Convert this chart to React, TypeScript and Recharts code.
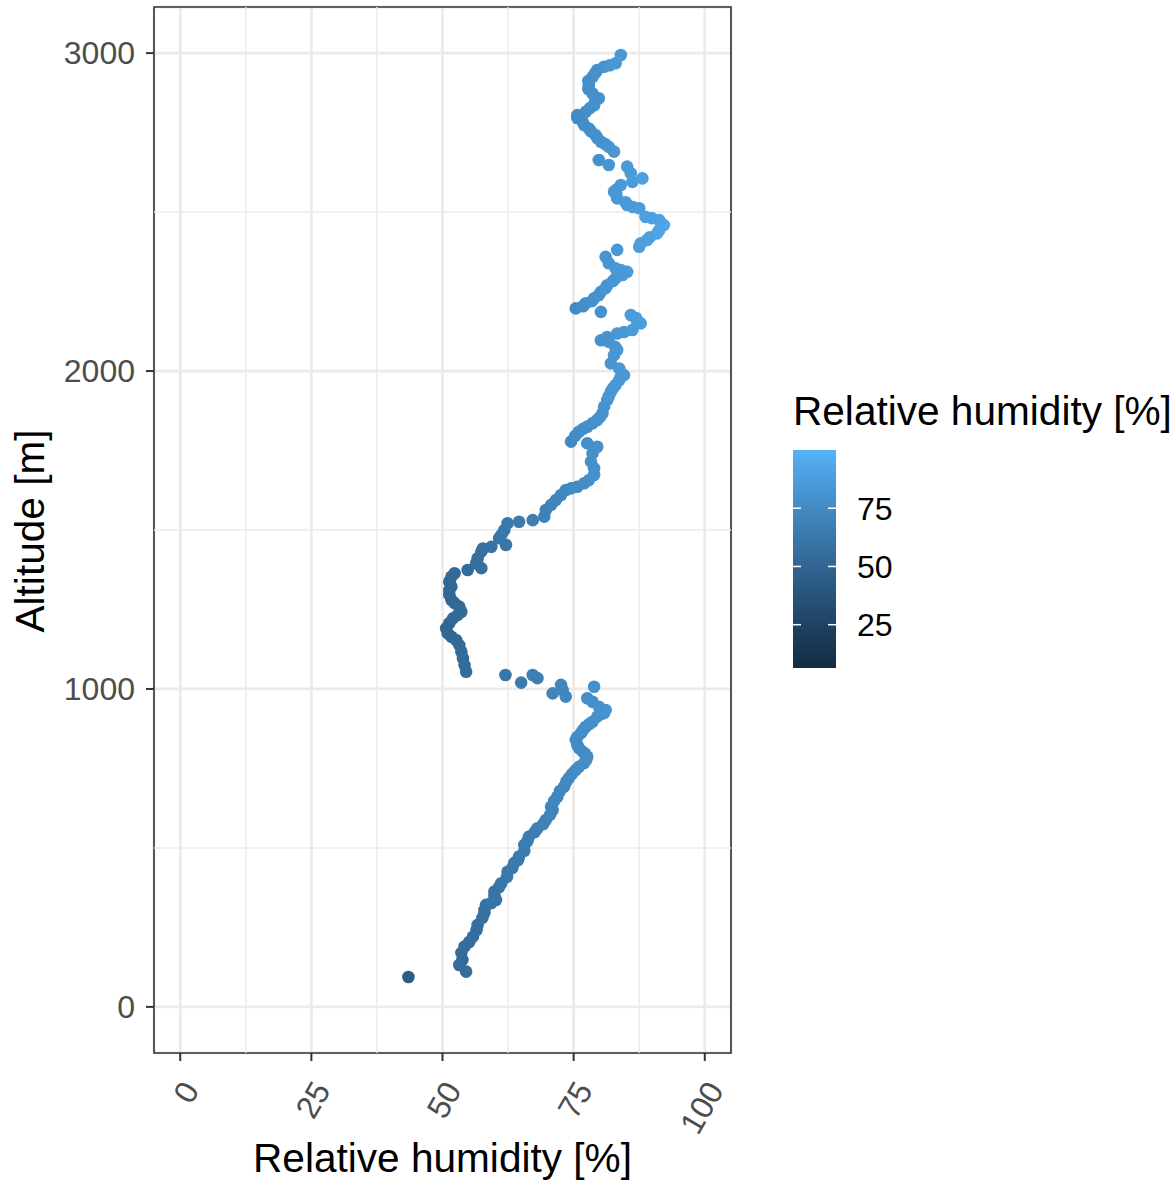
import React from 'react';
import { ScatterChart, Scatter, XAxis, YAxis, CartesianGrid, ReferenceLine, ReferenceArea } from 'recharts';

// humidity profile (bottom -> top)
const RH = [
  43.5, 54.5, 53.2, 53.8, 53.6, 54.2, 55.1, 55.8, 56.5, 56.7, 57.6, 58.0, 58.0, 58.3, 59.3, 60.2, 59.9, 59.9,
  60.8, 61.2, 62.3, 62.4, 63.3, 63.7, 64.4, 64.6, 65.6, 65.6, 66.2, 66.5, 67.6, 68.1, 69.2, 69.7, 70.5, 71.0,
  70.7, 71.3, 71.9, 72.4, 73.2, 73.6, 74.1, 74.7, 75.4, 76.0, 77.0, 77.4, 77.6, 77.2, 76.7, 76.0, 75.7, 75.4,
  75.7, 76.4, 76.8, 77.3, 78.0, 78.6, 79.5, 80.2, 80.8, 81.1, 79.8, 78.6, 77.6, 73.5, 71.0, 72.9, 78.9, 72.6,
  65.0, 68.1, 67.2, 62.0,
  54.5, 54.2, 53.9, 53.6, 53.2, 52.6, 51.7, 51.0, 50.7, 51.3, 52.0, 52.9, 53.6, 53.2, 52.3, 51.7, 51.3, 51.3,
  51.7, 51.3, 51.7, 52.3, 54.8, 57.4, 56.4, 56.7, 57.4, 57.7, 59.3, 60.8, 62.1, 61.2, 61.8, 62.4, 64.6, 67.2,
  69.4, 69.7, 70.7, 71.6, 72.6, 73.5, 74.5, 75.7, 77.0, 77.9, 78.9, 78.9, 78.3, 78.6, 79.5, 77.6, 74.5, 76.0,
  77.6, 79.5, 80.5, 80.8, 81.4, 82.1, 83.0, 83.7, 84.6, 83.7, 82.1, 82.7, 83.3, 82.9, 81.7, 80.2, 81.4, 83.3,
  84.6, 86.2, 87.8, 87.1, 86.9, 85.9, 80.2, 75.4, 77.3, 78.9, 80.2, 81.4, 83.0, 85.2, 84.0, 83.0, 81.7, 81.1,
  83.3, 87.5, 89.0, 90.9, 92.2, 91.3, 89.9, 88.7, 87.5, 86.3, 85.2, 83.3, 83.0, 82.7, 84.0, 86.2, 88.1, 85.9,
  85.2, 81.7, 79.8, 82.7, 81.7, 80.2, 79.2, 77.9, 76.7, 75.7, 77.3, 78.9, 79.8, 78.6, 77.9, 78.6, 79.5, 80.8,
  81.9, 83.0, 84.0,
  // extra reads along the denser stretches of the upper profile
  75.3, 76.8, 78.6, 80.0, 81.7, 82.5, 84.0,
  76.8, 78.5, 79.8, 81.1, 82.5, 84.3,
  87.8, 89.5, 91.3, 84.9, 83.1,
  81.0, 79.5, 78.3, 77.0, 75.7, 78.1, 79.1, 77.8, 77.8, 79.1,
];
const ALT = [
  94, 111, 132, 148, 170, 190, 204, 221, 242, 258, 280, 296, 305, 321, 327, 336, 349, 363,
  377, 389, 409, 425, 437, 453, 462, 473, 491, 509, 522, 536, 550, 562, 575, 588, 604, 619,
  630, 648, 661, 679, 693, 708, 720, 733, 745, 755, 767, 777, 787, 796, 803, 814, 824, 840,
  849, 861, 871, 881, 890, 897, 913, 921, 924, 934, 944, 960, 971, 976, 986, 997, 1007, 1013,
  1020, 1034, 1044, 1044,
  1054, 1075, 1097, 1117, 1138, 1154, 1164, 1175, 1191, 1207, 1222, 1233, 1243, 1259, 1270, 1280, 1296, 1311,
  1322, 1337, 1353, 1364, 1374, 1380, 1395, 1411, 1432, 1442, 1447, 1474, 1453, 1484, 1500, 1521, 1526, 1531,
  1542, 1563, 1579, 1594, 1610, 1626, 1631, 1636, 1647, 1657, 1673, 1694, 1715, 1741, 1762, 1773, 1778, 1809,
  1825, 1846, 1867, 1888, 1909, 1935, 1956, 1972, 1987, 2008, 2024, 2050, 2066, 2076, 2092, 2097, 2107, 2118,
  2123, 2129, 2150, 2155, 2167, 2176, 2186, 2197, 2213, 2229, 2249, 2270, 2292, 2312, 2318, 2323, 2339, 2359,
  2381, 2391, 2412, 2433, 2459, 2475, 2481, 2485, 2512, 2516, 2522, 2543, 2569, 2564, 2585, 2595, 2606, 2622,
  2643, 2648, 2664, 2690, 2705, 2721, 2742, 2763, 2784, 2805, 2815, 2836, 2858, 2873, 2899, 2925, 2947, 2957,
  2962, 2968, 2994,
  1796, 1818, 1836, 1855, 1921, 1946, 1981,
  2204, 2220, 2239, 2261, 2283, 2302,
  2402, 2421, 2443, 2531, 2557,
  2714, 2733, 2754, 2774, 2796, 2827, 2849, 2887, 2912, 2937,
];

const X_TICKS = [0, 25, 50, 75, 100];
const Y_TICKS = [0, 1000, 2000, 3000];
const X_MINOR = [12.5, 37.5, 62.5, 87.5];
const Y_MINOR = [500, 1500, 2500];
const LEGEND_TICKS = [25, 50, 75];
const COLOR_LIMITS = [6.4, 100];

const LOW = '#132B43';
const HIGH = '#56B1F7';
const FONT = '"Liberation Sans", Arial, sans-serif';

// ggplot-style gradient, interpolated in Lab
const WHITE = [0.95047, 1, 1.08883];
const toLin = (c: number) => { c /= 255; return c <= 0.04045 ? c / 12.92 : Math.pow((c + 0.055) / 1.055, 2.4); };
const fromLin = (c: number) => {
  const v = c <= 0.0031308 ? 12.92 * c : 1.055 * Math.pow(c, 1 / 2.4) - 0.055;
  return Math.round(Math.min(1, Math.max(0, v)) * 255);
};
const f = (t: number) => (t > 216 / 24389 ? Math.cbrt(t) : (24389 / 27 * t + 16) / 116);
const finv = (t: number) => (t * t * t > 216 / 24389 ? t * t * t : (116 * t - 16) / (24389 / 27));

function hexToLab(hex: string) {
  const r = toLin(parseInt(hex.slice(1, 3), 16));
  const g = toLin(parseInt(hex.slice(3, 5), 16));
  const b = toLin(parseInt(hex.slice(5, 7), 16));
  const X = 0.4124 * r + 0.3576 * g + 0.1805 * b;
  const Y = 0.2126 * r + 0.7152 * g + 0.0722 * b;
  const Z = 0.0193 * r + 0.1192 * g + 0.9505 * b;
  const fx = f(X / WHITE[0]), fy = f(Y / WHITE[1]), fz = f(Z / WHITE[2]);
  return [116 * fy - 16, 500 * (fx - fy), 200 * (fy - fz)];
}

function labToRgb(L: number, a: number, b: number) {
  const fy = (L + 16) / 116, fx = fy + a / 500, fz = fy - b / 200;
  const X = finv(fx) * WHITE[0], Y = finv(fy) * WHITE[1], Z = finv(fz) * WHITE[2];
  const r = 3.2406 * X - 1.5372 * Y - 0.4986 * Z;
  const g = -0.9689 * X + 1.8758 * Y + 0.0415 * Z;
  const bl = 0.0557 * X - 0.204 * Y + 1.057 * Z;
  return `rgb(${fromLin(r)},${fromLin(g)},${fromLin(bl)})`;
}

const LAB_LOW = hexToLab(LOW);
const LAB_HIGH = hexToLab(HIGH);

const rampAt = (t: number) => {
  const k = Math.min(1, Math.max(0, t));
  return labToRgb(
    LAB_LOW[0] + (LAB_HIGH[0] - LAB_LOW[0]) * k,
    LAB_LOW[1] + (LAB_HIGH[1] - LAB_LOW[1]) * k,
    LAB_LOW[2] + (LAB_HIGH[2] - LAB_LOW[2]) * k,
  );
};
const rhColor = (v: number) => rampAt((v - COLOR_LIMITS[0]) / (COLOR_LIMITS[1] - COLOR_LIMITS[0]));

const data = RH.map((rh, i) => ({ rh, alt: ALT[i] }));

const XTick = (props: any) => {
  const { x, y, payload } = props;
  return (
    <g transform={`translate(${x + 20},${y + 27}) rotate(-60)`}>
      <text x={0} y={0} textAnchor="end" fill="#4D4D4D" fontSize={32} fontFamily={FONT}>
        {payload.value}
      </text>
    </g>
  );
};

const Dot = (props: any) => (
  <circle cx={props.cx} cy={props.cy} r={6.3} fill={rhColor(props.payload.rh)} />
);

// colourbar geometry
const BAR_X = 793;
const BAR_W = 43;
const BAR_TOP = 450;
const BAR_BOTTOM = 668;
const barY = (v: number) =>
  BAR_BOTTOM - ((v - COLOR_LIMITS[0]) / (COLOR_LIMITS[1] - COLOR_LIMITS[0])) * (BAR_BOTTOM - BAR_TOP);

export default function App() {
  const stops = Array.from({ length: 21 }, (_, i) => i / 20);
  return (
    <div style={{ position: 'absolute', left: 0, top: 0, width: 1173, height: 1182, background: '#fff' }}>
      <ScatterChart width={1173} height={1182} margin={{ top: 7, right: 442, bottom: 0, left: 0 }}>
        <CartesianGrid stroke="#EBEBEB" strokeWidth={2.8} />
        {X_MINOR.map((v) => (
          <ReferenceLine key={`vx${v}`} x={v} stroke="#EBEBEB" strokeWidth={1.4} />
        ))}
        {Y_MINOR.map((v) => (
          <ReferenceLine key={`hy${v}`} y={v} stroke="#EBEBEB" strokeWidth={1.4} />
        ))}
        <XAxis
          type="number"
          dataKey="rh"
          domain={[-5, 105]}
          ticks={X_TICKS}
          allowDataOverflow
          height={129}
          axisLine={false}
          tickLine={{ stroke: '#333333', strokeWidth: 2 }}
          tickSize={8}
          tickMargin={2}
          tick={<XTick />}
          interval={0}
        />
        <YAxis
          type="number"
          dataKey="alt"
          domain={[-145, 3145]}
          ticks={Y_TICKS}
          allowDataOverflow
          width={154}
          axisLine={false}
          tickLine={{ stroke: '#333333', strokeWidth: 2 }}
          tickSize={8}
          tickMargin={11}
          tick={{ fill: '#4D4D4D', fontSize: 32, fontFamily: FONT }}
          interval={0}
        />
        <Scatter data={data} shape={<Dot />} isAnimationActive={false} />
        <ReferenceArea x1={-5} x2={105} y1={-145} y2={3145} fill="none" stroke="#333333" strokeWidth={1.6} />
      </ScatterChart>

      <svg
        width={1173}
        height={1182}
        style={{ position: 'absolute', left: 0, top: 0, pointerEvents: 'none' }}
        fontFamily={FONT}
      >
        <defs>
          <linearGradient id="rhbar" x1="0" y1="1" x2="0" y2="0">
            {stops.map((t) => (
              <stop key={t} offset={t} stopColor={rampAt(t)} />
            ))}
          </linearGradient>
        </defs>
        <text x={442.5} y={1172} textAnchor="middle" fontSize={40.6} fill="#000">
          Relative humidity [%]
        </text>
        <text transform="translate(44,531) rotate(-90)" textAnchor="middle" fontSize={40.6} fill="#000">
          Altitude [m]
        </text>
        <text x={793} y={425} fontSize={40.6} fill="#000">
          Relative humidity [%]
        </text>
        <rect x={BAR_X} y={BAR_TOP} width={BAR_W} height={BAR_BOTTOM - BAR_TOP} fill="url(#rhbar)" />
        {LEGEND_TICKS.map((v) => (
          <g key={v}>
            <line x1={BAR_X} x2={BAR_X + 8} y1={barY(v)} y2={barY(v)} stroke="#fff" strokeWidth={1.5} />
            <line x1={BAR_X + BAR_W - 8} x2={BAR_X + BAR_W} y1={barY(v)} y2={barY(v)} stroke="#fff" strokeWidth={1.5} />
            <text x={857} y={barY(v) + 11.5} fontSize={32} fill="#000">
              {v}
            </text>
          </g>
        ))}
      </svg>
    </div>
  );
}
